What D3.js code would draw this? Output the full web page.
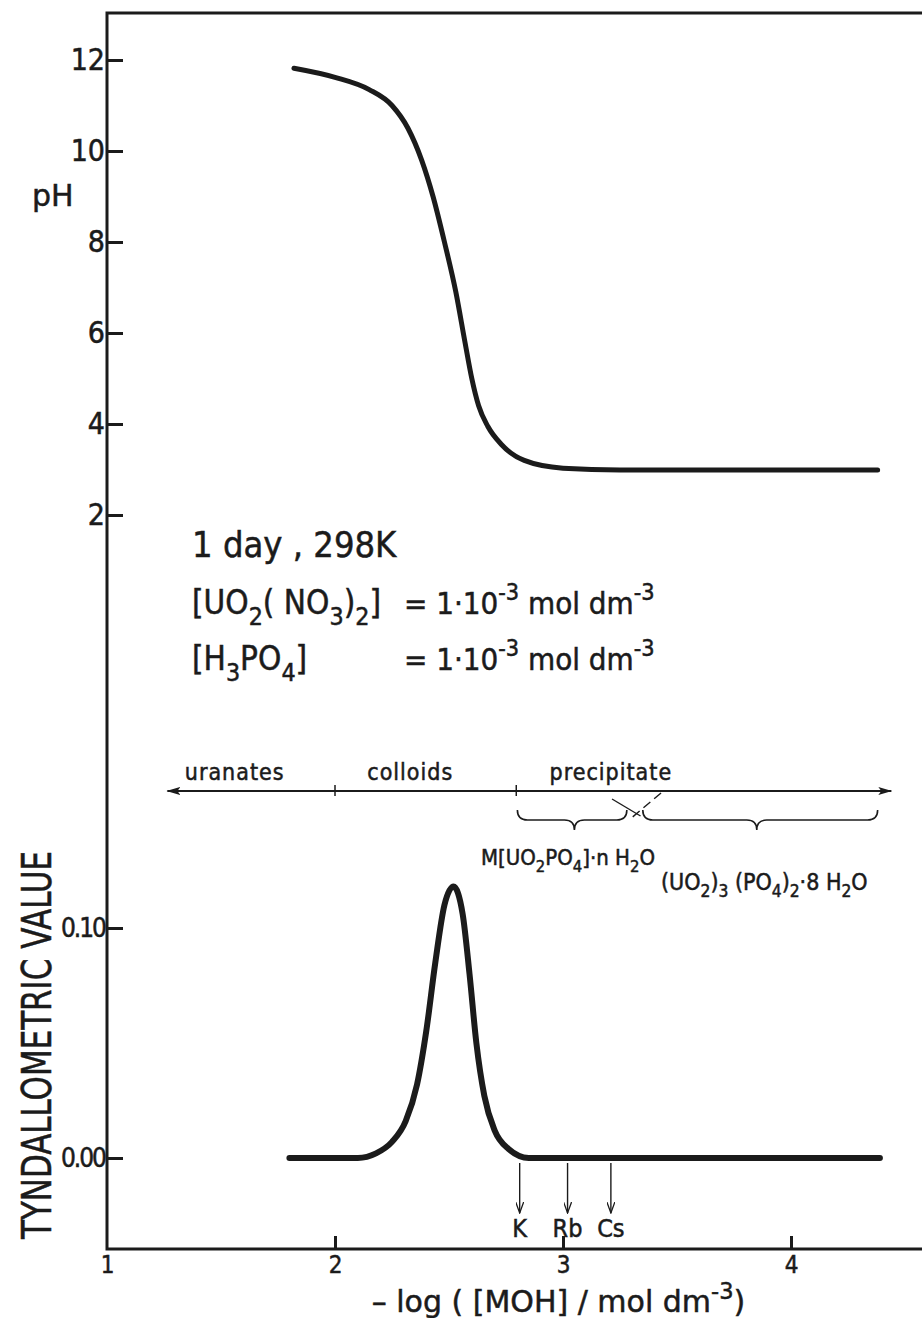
<!DOCTYPE html>
<html>
<head>
<meta charset="utf-8">
<script src="https://cdn.jsdelivr.net/npm/d3@7"></script>
<style>
body { margin: 0; background: #fff; }
svg text { font-family: "DejaVu Sans Condensed", "DejaVu Sans", sans-serif; font-stretch: condensed; fill: #1b1b1b; stroke: #1b1b1b; stroke-width: 0.5px; }
svg text.wide { font-family: "DejaVu Sans", sans-serif; font-stretch: normal; }
</style>
</head>
<body>
<svg id="chart"></svg>
<script>
// pH titration curve
const phLogOH = [1.82, 2.00, 2.15, 2.25, 2.32, 2.38, 2.43, 2.48, 2.53, 2.57, 2.60, 2.63, 2.67, 2.73, 2.83, 3.00, 3.25, 4.38];
const phValues = [11.82, 11.62, 11.35, 11.0, 10.5, 9.8, 9.0, 8.0, 6.9, 5.8, 5.0, 4.4, 3.95, 3.55, 3.2, 3.03, 2.99, 2.99];

// tyndallometric curve
const tyndLogOH = [1.80, 2.10, 2.18, 2.25, 2.31, 2.36, 2.40, 2.44, 2.48, 2.52, 2.56, 2.59, 2.62, 2.655, 2.70, 2.76, 2.85, 4.39];
const tyndValues = [0, 0, 0.002, 0.007, 0.016, 0.032, 0.055, 0.085, 0.11, 0.118, 0.106, 0.08, 0.05, 0.027, 0.012, 0.004, 0, 0];

const phTicks = [2, 4, 6, 8, 10, 12];
const tyndTicks = [0.00, 0.10];
const tyndTickLabels = ["0.00", "0.10"];
const xTicks = [1, 2, 3, 4];

// regions along the arrow
const regionBounds = [1.265, 2.0, 2.795, 4.44];
const regionLabels = ["uranates", "colloids", "precipitate"];
const regionLabelX = [1.56, 2.33, 3.21];

// brace groups [start, tip, end]
const braces = [[2.80, 3.05, 3.28], [3.35, 3.85, 4.38]];

// alkali arrows
const alkaliLabels = ["K", "Rb", "Cs"];
const alkaliLogOH = [2.81, 3.02, 3.21];

const W = 922, H = 1318;
const padLeft = 107, padTop = 13, axisBottomY = 1249;
const ink = "#1b1b1b";

const svg = d3.select("#chart").attr("width", W).attr("height", H);

const x = d3.scaleLinear().domain([1, 4]).range([padLeft, 791]);
const yPH = d3.scaleLinear().domain([2, 12]).range([515, 60]);
const yT = d3.scaleLinear().domain([0, 0.1]).range([1158, 928]);

const defs = svg.append("defs");
defs.append("marker").attr("id", "head").attr("viewBox", "0 0 14 8")
  .attr("refX", 13).attr("refY", 4).attr("markerWidth", 14).attr("markerHeight", 8)
  .attr("markerUnits", "userSpaceOnUse").attr("orient", "auto-start-reverse")
  .append("path").attr("d", "M0,0 L14,4 L0,8 L3,4 Z").attr("fill", ink);
defs.append("marker").attr("id", "small").attr("viewBox", "0 0 8 12")
  .attr("refX", 4).attr("refY", 11).attr("markerWidth", 8).attr("markerHeight", 12)
  .attr("markerUnits", "userSpaceOnUse").attr("orient", "0")
  .append("path").attr("d", "M0,0 L4,11 L8,0").attr("fill", "none").attr("stroke", ink).attr("stroke-width", 1.3);

// frame
svg.append("path")
  .attr("d", `M${W},${padTop} H${padLeft} V${axisBottomY} H${W}`)
  .attr("fill", "none").attr("stroke", ink).attr("stroke-width", 3);

// axes
const phAxis = svg.append("g").attr("transform", `translate(${padLeft},0)`)
  .call(d3.axisLeft(yPH).tickValues(phTicks).tickSizeInner(-16).tickSizeOuter(0).tickPadding(2));
const tAxis = svg.append("g").attr("transform", `translate(${padLeft},0)`)
  .call(d3.axisLeft(yT).tickValues(tyndTicks).tickFormat((d, i) => tyndTickLabels[i])
    .tickSizeInner(-16).tickSizeOuter(0).tickPadding(2));
const xAxis = svg.append("g").attr("transform", `translate(0,${axisBottomY})`)
  .call(d3.axisBottom(x).tickValues(xTicks).tickFormat(d3.format("d")).tickSizeInner(-13).tickSizeOuter(0).tickPadding(7));

[phAxis, tAxis, xAxis].forEach(a => {
  a.select(".domain").remove();
  a.selectAll(".tick line").attr("stroke", ink).attr("stroke-width", 3);
  a.selectAll(".tick text").attr("fill", ink).style("font-size", "30px");
});
tAxis.selectAll(".tick text").style("font-size", "26px").attr("letter-spacing", "-2px");
xAxis.selectAll(".tick line").filter(d => d === 1).remove();
xAxis.selectAll(".tick text").style("font-size", "24px");

// curves
const phLine = d3.line().x(d => x(d[0])).y(d => yPH(d[1])).curve(d3.curveMonotoneX);
svg.append("path").datum(d3.zip(phLogOH, phValues))
  .attr("d", phLine).attr("fill", "none").attr("stroke", ink)
  .attr("stroke-width", 5).attr("stroke-linecap", "round");

const tLine = d3.line().x(d => x(d[0])).y(d => yT(d[1])).curve(d3.curveMonotoneX);
svg.append("path").datum(d3.zip(tyndLogOH, tyndValues))
  .attr("d", tLine).attr("fill", "none").attr("stroke", ink)
  .attr("stroke-width", 6).attr("stroke-linecap", "round");

// axis titles
svg.append("text").attr("class", "wide").attr("x", 32).attr("y", 206).style("font-size", "30px").text("pH");
svg.append("text")
  .attr("transform", "translate(51,1239) rotate(-90)")
  .attr("textLength", 388).attr("lengthAdjust", "spacingAndGlyphs")
  .style("font-size", "41px").text("TYNDALLOMETRIC  VALUE");

// helper for sub/superscripts
function rich(t, parts, size) {
  let shift = 0;
  parts.forEach(p => {
    const [s, kind] = p;
    const want = kind === "sub" ? size * 0.32 : kind === "sup" ? -size * 0.45 : 0;
    const ts = t.append("tspan").text(s).attr("dy", want - shift);
    if (kind) ts.style("font-size", (size * 0.75) + "px");
    shift = want;
  });
}

const xTitle = svg.append("text").attr("class", "wide").attr("x", x(2.98)).attr("y", 1312)
  .attr("text-anchor", "middle").style("font-size", "30px");
rich(xTitle, [["– log ( [MOH]  /  mol dm"], ["-3", "sup"], [")"]], 30);

// conditions block
svg.append("text").attr("x", 192).attr("y", 557).style("font-size", "36px").text("1 day ,  298K");
const l2 = svg.append("text").attr("x", 192).attr("y", 614).style("font-size", "33px");
rich(l2, [["[UO"], ["2", "sub"], ["( NO"], ["3", "sub"], [")"], ["2", "sub"], ["]"]], 33);
const l3 = svg.append("text").attr("x", 192).attr("y", 670).style("font-size", "33px");
rich(l3, [["[H"], ["3", "sub"], ["PO"], ["4", "sub"], ["]"]], 33);
[614, 670].forEach(yy => {
  const t = svg.append("text").attr("x", 404).attr("y", yy).style("font-size", "31px");
  rich(t, [["= 1·10"], ["-3", "sup"], [" mol  dm"], ["-3", "sup"]], 31);
});

// regions arrow
const ry = 791;
svg.append("line").attr("x1", x(regionBounds[0])).attr("x2", x(regionBounds[3]))
  .attr("y1", ry).attr("y2", ry).attr("stroke", ink).attr("stroke-width", 2)
  .attr("marker-start", "url(#head)").attr("marker-end", "url(#head)");
svg.selectAll(".rtick").data(regionBounds.slice(1, 3)).join("line")
  .attr("x1", d => x(d)).attr("x2", d => x(d)).attr("y1", ry - 6).attr("y2", ry + 5)
  .attr("stroke", ink).attr("stroke-width", 1.5);
svg.selectAll(".rlab").data(regionLabels).join("text")
  .attr("x", (d, i) => x(regionLabelX[i])).attr("y", 780).attr("text-anchor", "middle")
  .style("font-size", "23px").attr("letter-spacing", "1px").text(d => d);

// braces
function bracePath(a, c, b, y0) {
  const q = 10, yMid = y0 + 10, yTip = y0 + 20;
  return `M${a},${y0} Q${a},${yMid} ${a + q},${yMid} L${c - q},${yMid} Q${c},${yMid} ${c},${yTip}` +
    ` Q${c},${yMid} ${c + q},${yMid} L${b - q},${yMid} Q${b},${yMid} ${b},${y0}`;
}
svg.selectAll(".brace").data(braces).join("path")
  .attr("d", d => bracePath(x(d[0]), x(d[1]), x(d[2]), 810))
  .attr("fill", "none").attr("stroke", ink).attr("stroke-width", 1.6);
svg.append("line").attr("x1", x(3.215)).attr("y1", 799).attr("x2", x(3.34)).attr("y2", 816)
  .attr("stroke", ink).attr("stroke-width", 1.4);
svg.append("line").attr("x1", x(3.43)).attr("y1", 793).attr("x2", x(3.30)).attr("y2", 818)
  .attr("stroke", ink).attr("stroke-width", 1.4).attr("stroke-dasharray", "9,5");

const f1 = svg.append("text").attr("x", x(2.64)).attr("y", 865).style("font-size", "22px");
rich(f1, [["M[UO"], ["2", "sub"], ["PO"], ["4", "sub"], ["]·n H"], ["2", "sub"], ["O"]], 22);
const f2 = svg.append("text").attr("x", x(3.43)).attr("y", 890).style("font-size", "23px");
rich(f2, [["(UO"], ["2", "sub"], [")"], ["3", "sub"], [" (PO"], ["4", "sub"], [")"], ["2", "sub"], ["·8 H"], ["2", "sub"], ["O"]], 23);

// alkali arrows
svg.selectAll(".alk").data(alkaliLogOH).join("line")
  .attr("x1", d => x(d)).attr("x2", d => x(d)).attr("y1", 1163).attr("y2", 1213)
  .attr("stroke", ink).attr("stroke-width", 1.4).attr("marker-end", "url(#small)");
svg.selectAll(".alkl").data(alkaliLabels).join("text")
  .attr("x", (d, i) => x(alkaliLogOH[i])).attr("y", 1237).attr("text-anchor", "middle")
  .style("font-size", "25px").text(d => d);
</script>
</body>
</html>
